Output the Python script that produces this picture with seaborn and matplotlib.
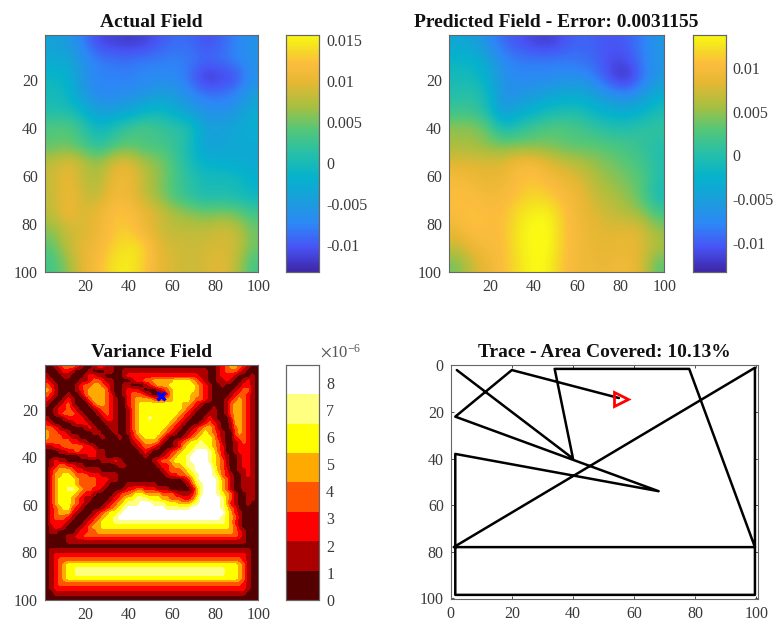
import numpy as np
import matplotlib
matplotlib.use("Agg")
import matplotlib.pyplot as plt
from matplotlib.colors import LinearSegmentedColormap, ListedColormap
import seaborn as sns

# values, in units of 1e-3, on a 14x14 grid
actual_field = [
    [-4, -5, -8, -11, -11.5, -12, -11.5, -10, -9, -9, -10.5, -9.5, -7.5, -6],
    [-3, -3, -6, -8, -8.5, -8.5, -8, -8, -7.5, -8, -9, -8.5, -7.5, -6],
    [-1, -1.5, -6, -7.5, -7.5, -8, -7, -7, -7, -9, -12.5, -11.5, -11, -6.5],
    [0, -1, -5, -7.5, -7, -6.5, -6, -4.5, -5, -7, -8.5, -8.5, -7.5, -4.5],
    [0.5, 0.5, -1.5, -4.5, -4.5, -3.5, -1.5, -0.5, -2.5, -4.5, -6, -6.5, -5.5, -2.5],
    [4, 4.5, 2, -1, 1, 3, 4, 2.5, 2, 1, -4, -4, -3, -2.5],
    [4, 4.5, 3, 1, 3, 4, 3, 3, 2, 0, -4.5, -4, -3, -3],
    [8, 10, 8, 6, 9.5, 10, 7, 6, 3, 0, -2, -2, -3, -3],
    [8.5, 10.5, 8, 7, 10.5, 11, 8, 6, 3.5, 1.5, 0, 0, 0, -2],
    [8, 11, 8.5, 8, 11, 10.5, 8, 6, 3, 1.5, 0, 0.5, 0, -1],
    [8, 11, 9, 10.5, 12.5, 12.5, 10.5, 9, 7, 6, 5, 5.5, 5, 3],
    [6, 8.5, 9, 10.5, 12.5, 13, 10.5, 8.5, 8, 8, 8, 9, 8.5, 5],
    [4, 8.5, 10, 11, 13.5, 14.5, 14, 9.5, 9, 8.5, 9, 9, 9, 5],
    [3, 6, 10, 12, 14.5, 15, 13, 10, 9, 8.5, 9, 10, 8, 3],
]
predicted_field = [
    [-4, -4.5, -7, -9.5, -10.5, -11.5, -12, -10.5, -9.5, -10, -10.5, -10, -8.5, -6],
    [-2, -2, -4, -7.5, -8.5, -8.5, -8.5, -8.5, -9, -9.5, -11, -11, -8.5, -6],
    [-1, -1, -3, -6.5, -7.5, -7.5, -7.5, -7, -7, -8.5, -11.5, -13, -9.5, -6],
    [0, 0.5, -1, -7, -6.5, -5.5, -4.5, -3.5, -3.5, -5, -7, -8, -6, -3],
    [1.5, 1.5, -0.5, -6, -3.5, -2.5, -1, -0.5, -0.5, -2, -3, -3.5, -2.5, -0.5],
    [5, 5, 3.5, -1, 0.5, 2, 3, 3, 2, 1, 0, 0, 1, 1],
    [5.5, 5.5, 4.5, 4, 4, 4, 4, 3, 3, 3, 2.5, 2, 1, 0],
    [8, 8, 8, 8, 10, 10, 8, 7, 6, 5, 4, 3, 2, 0],
    [10, 9.5, 8.5, 9, 10.5, 11, 10, 9, 8, 6, 5, 4, 3, 0],
    [10.5, 10.5, 9.5, 10, 11, 12, 11.5, 10, 9, 7, 6, 5, 3, -1],
    [10.5, 11, 10.5, 10.5, 12.5, 13.5, 13.5, 11, 9, 8, 7, 6, 5, 2],
    [9, 11, 10.5, 10.5, 13, 14, 14, 11, 9.5, 8.5, 8, 8.5, 8, 5],
    [7, 9, 10, 10.5, 13, 14, 14, 11, 9.5, 8.5, 8.5, 9, 8, 6],
    [4, 7, 9, 10.5, 12.5, 14, 13.5, 10.5, 9.5, 9, 9, 9.5, 8, 3],
]

# variance field: colour band of each cell, one row per 2 units of y
variance_bands = [
    "0012333210 0122110000 0000000000 0000000000 1234432100",
    "0001221000 1000110011 1111111111 1111111100 1233321000",
    "1000110001 2211000012 2222222222 2222221100 1222100010",
    "2100000011 2332110000 1223344444 5555432100 1121001210",
    "3210000123 3443210011 0001234445 5555543210 0100012210",
    "4310000123 4444310012 2210001234 5555543210 0000123310",
    "3210010013 4444320012 3332100024 5555443210 0001233210",
    "2100121001 3444321002 3444433344 5555433210 0012343210",
    "1001231000 1344321002 3455555555 5544321000 0013443210",
    "0012232100 0123321001 3455555555 5543210001 0013443210",
    "0012333210 0012321001 3455555555 5432100011 0013443210",
    "1000122221 0001221001 3455655555 4321000121 0002443210",
    "2100001222 1000111001 3455555554 3210001232 1001443210",
    "3321000001 2100011001 3455555543 2100123443 1001343210",
    "4332210000 0110001001 2455555432 1001234543 2100343210",
    "4333221100 0001000100 2345554310 0012345554 2100233210",
    "3333332211 0000000000 1234443100 1234556554 3100123210",
    "1122333332 2100000000 0123321000 1245566654 3200122210",
    "0001122322 2211000000 0012100012 3455677765 3200122210",
    "0000000011 2211000000 0001000123 4556777765 4210012210",
    "0121100000 0001112100 0000012334 5556777765 4310012210",
    "0123322110 0000000110 0000001223 4456677775 4310012210",
    "0234443221 1110000000 0000000123 3345677776 4320011210",
    "0244554333 2221111000 0000000012 2334567776 5321001210",
    "0245555433 3322211000 0000000000 0012467777 6431001110",
    "0245555433 3322100001 1111110000 0001356777 6431001110",
    "0245566543 3221000012 2332221110 0000146777 6431001110",
    "0245555432 2100001233 4554444333 2111246777 6543100110",
    "0245554321 1000012345 5666555443 3322357777 7643100110",
    "0245554321 0000123456 6677766655 5444567777 7642100100",
    "0234553210 0001234567 7777777766 6666777777 7653200000",
    "0234442100 0123455677 7777777777 7777777777 7754210000",
    "0233321000 1234556777 7777777777 7777777777 7654310000",
    "0222210001 2345556666 6666666666 6666666666 6654210000",
    "0122100012 3445555555 5555555555 5555555555 5554310000",
    "0110000122 3344444444 4444444444 4444444444 4444321000",
    "0000011223 3333333333 3333333333 3333333333 3333321000",
    "0000011111 1111111111 1111111111 1111111111 1111111000",
    "0000000000 0000000000 0000000000 0000000000 0000000000",
    "0111111111 1111111111 1111111111 1111111111 1111111100",
    "0122222222 2222222222 2222222222 2222222222 2222222100",
    "0123333333 3333333333 3333333333 3333333333 3333332100",
    "0123455555 5555555555 5555555555 5555555555 5555543100",
    "0123455666 6666666666 6666666666 6666666666 6655543100",
    "0123455666 6666666666 6666666666 6666666666 6655543100",
    "0123455555 5555555555 5555555555 5555555555 5555543100",
    "0123333333 3333333333 3333333333 3333333333 3333332100",
    "0122222222 2222222222 2222222222 2222222222 2222222100",
    "0011111111 1111111111 1111111111 1111111111 1111111000",
    "0000000000 0000000000 0000000000 0000000000 0000000000",
]
band_levels = [0.7, 1.62, 2.71, 3.79, 4.87, 5.95, 7.04, 8.12]

trace_x = [2, 40, 34, 78, 99.5, 1, 99.5, 99.5, 1.5, 1.5, 68, 1.5, 20, 55]
trace_y = [2, 40, 1.5, 1.5, 78, 78, 1, 98.5, 98.5, 38, 54, 22, 2, 14]

field_ticks = [20, 40, 60, 80, 100]
trace_ticks = [0, 20, 40, 60, 80, 100]
actual_cbar_ticks = [-0.01, -0.005, 0, 0.005, 0.01, 0.015]
actual_cbar_labels = ["-0.01", "-0.005", "0", "0.005", "0.01", "0.015"]
predicted_cbar_ticks = [-0.01, -0.005, 0, 0.005, 0.01]
predicted_cbar_labels = ["-0.01", "-0.005", "0", "0.005", "0.01"]
variance_cbar_ticks = [0, 1, 2, 3, 4, 5, 6, 7, 8]

parula = LinearSegmentedColormap.from_list("parula", [
    (0.00, (0.2422, 0.1504, 0.6603)),
    (0.10, (0.2810, 0.3228, 0.9579)),
    (0.20, (0.1786, 0.5289, 0.9682)),
    (0.30, (0.10, 0.62, 0.86)),
    (0.40, (0.02, 0.70, 0.80)),
    (0.50, (0.15, 0.75, 0.66)),
    (0.60, (0.33, 0.78, 0.47)),
    (0.70, (0.66, 0.75, 0.25)),
    (0.80, (0.90, 0.72, 0.20)),
    (0.88, (0.99, 0.74, 0.24)),
    (0.95, (0.96, 0.88, 0.13)),
    (1.00, (0.98, 0.98, 0.08)),
])
hot8 = ListedColormap([(1/3, 0, 0), (2/3, 0, 0), (1, 0, 0), (1, 1/3, 0),
                       (1, 2/3, 0), (1, 1, 0), (1, 1, 0.5), (1, 1, 1)])

sns.set_style("white")
plt.rcParams["font.family"] = ["Liberation Serif", "DejaVu Serif"]
plt.rcParams["mathtext.fontset"] = "stix"

W, H = 775, 626
GRAY = "#3a3a3a"
EDGE = "#666666"
LABEL_SIZE = 11.5


def box(x0, y0, x1, y1):
    return [x0 / W, 1 - y1 / H, (x1 - x0) / W, (y1 - y0) / H]


def dress(ax, title):
    for s in ax.spines.values():
        s.set_visible(True)
        s.set_linewidth(0.8)
        s.set_color(EDGE)
    ax.tick_params(direction="in", top=True, right=True, bottom=True, left=True,
                   length=2.5, width=0.6, color="#333333", labelsize=LABEL_SIZE,
                   labelcolor=GRAY)
    ax.tick_params(axis="x", pad=5)
    ax.tick_params(axis="y", pad=5)
    ax.set_title(title, fontsize=14, fontweight="bold", color="#111111", pad=5.5)


def place_field_ticks(ax, n):
    pos = [n * (v - 1) / 99 for v in field_ticks]
    ax.set_xticks(pos)
    ax.set_xticklabels(field_ticks, rotation=0)
    ax.set_yticks(pos)
    ax.set_yticklabels(field_ticks, rotation=0)
    ax.set_xlim(0, n)
    ax.set_ylim(n, 0)


def dress_cbar(cax, ticks, labels):
    cax.yaxis.set_ticks_position("right")
    cax.set_yticks(ticks)
    cax.set_yticklabels(labels)
    cax.tick_params(direction="in", length=2.5, width=0.6, color="#333333",
                    labelsize=LABEL_SIZE, labelcolor=GRAY, pad=5, right=True, left=False)
    for s in cax.spines.values():
        s.set_visible(True)
        s.set_linewidth(0.8)
        s.set_color(EDGE)


def field_panel(ax, cax, data, cmap, vmin, vmax, title, ticks, labels, interp):
    sns.heatmap(data, ax=ax, cbar_ax=cax, cmap=cmap, vmin=vmin, vmax=vmax,
                xticklabels=False, yticklabels=False)
    n = data.shape[0]
    # same cells again, smoothed at draw time
    ax.imshow(data, extent=(0, n, n, 0), cmap=cmap, vmin=vmin, vmax=vmax,
              interpolation=interp, interpolation_stage="data", aspect="auto", zorder=2)
    place_field_ticks(ax, n)
    dress(ax, title)
    dress_cbar(cax, ticks, labels)


fig = plt.figure(figsize=(W / 100, H / 100), dpi=100)

ax1 = fig.add_axes(box(44.7, 34.7, 258.3, 271.7))
cax1 = fig.add_axes(box(286.3, 34.7, 319.3, 271.7))
field_panel(ax1, cax1, np.array(actual_field) * 1e-3, parula, -0.01325, 0.0156,
            "Actual Field", actual_cbar_ticks, actual_cbar_labels, "bicubic")

ax2 = fig.add_axes(box(449, 34.7, 664.3, 271.7))
cax2 = fig.add_axes(box(693.3, 34.7, 725.7, 271.7))
field_panel(ax2, cax2, np.array(predicted_field) * 1e-3, parula, -0.01333, 0.01385,
            "Predicted Field - Error: 0.0031155",
            predicted_cbar_ticks, predicted_cbar_labels, "bicubic")

# variance field
rows = [r.replace(" ", "") for r in variance_bands]
variance = np.array([[band_levels[int(c)] for c in r] for r in rows])
ax3 = fig.add_axes(box(44.7, 364.7, 258.3, 600))
cax3 = fig.add_axes(box(286.3, 364.7, 319.3, 600))
field_panel(ax3, cax3, variance, hot8, 0, 8.66, "Variance Field",
            variance_cbar_ticks, variance_cbar_ticks, "bilinear")
ax3.plot(50 * (trace_x[-1] - 1) / 99, 50 * (trace_y[-1] - 1) / 99, marker="x",
         color="#0000ff", ms=6, mew=2.4, ls="none", zorder=3)
fig.text(320 / W, 1 - 352 / H, r"$\times\mathdefault{10^{-6}}$", fontsize=12,
         color="#555555", ha="left", va="center")

# trace
ax4 = fig.add_axes(box(450.7, 364.7, 758, 599.3))
sns.lineplot(x=trace_x, y=trace_y, ax=ax4, sort=False, estimator=None,
             color="black", linewidth=1.8)
ax4.plot(trace_x[-1] + 0.7, trace_y[-1] + 0.6, marker=">", mfc="none", mec="#ff0000",
         mew=2, ms=10, ls="none")
ax4.set_xlim(0, 100.5)
ax4.set_ylim(100.4, -0.3)
ax4.set_xticks(trace_ticks)
ax4.set_yticks(trace_ticks)
dress(ax4, "Trace - Area Covered: 10.13%")

fig.savefig("out.png", dpi=100)
